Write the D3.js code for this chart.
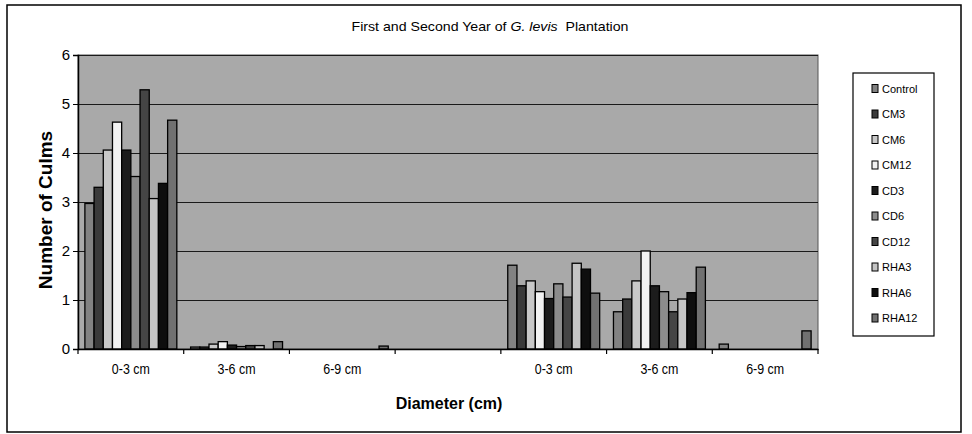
<!DOCTYPE html>
<html>
<head>
<meta charset="utf-8">
<script src="https://cdn.jsdelivr.net/npm/d3@7"></script>
<style>
  html, body { margin: 0; padding: 0; background: #fff; }
  svg { display: block; font-family: "Liberation Sans", Arial, sans-serif; }
</style>
</head>
<body>
<svg id="chart" width="972" height="434"></svg>
<script>
// ---- data ----
const categories = ["0-3 cm", "3-6 cm", "6-9 cm", "", "0-3 cm", "3-6 cm", "6-9 cm"];
const seriesNames = ["Control", "CM3", "CM6", "CM12", "CD3", "CD6", "CD12", "RHA3", "RHA6", "RHA12"];
const Control = [2.97, 0.04, 0, 0, 1.71, 0.76, 0.10];
const CM3     = [3.30, 0.04, 0, 0, 1.29, 1.02, 0];
const CM6     = [4.06, 0.10, 0, 0, 1.39, 1.39, 0];
const CM12    = [4.63, 0.15, 0, 0, 1.17, 2.00, 0];
const CD3     = [4.06, 0.08, 0, 0, 1.03, 1.29, 0];
const CD6     = [3.52, 0.05, 0, 0, 1.33, 1.17, 0];
const CD12    = [5.29, 0.07, 0, 0, 1.06, 0.76, 0];
const RHA3    = [3.07, 0.07, 0, 0, 1.75, 1.02, 0];
const RHA6    = [3.38, 0,    0, 0, 1.63, 1.15, 0];
const RHA12   = [4.67, 0.15, 0.06, 0, 1.14, 1.67, 0.37];
const yTicks = [0, 1, 2, 3, 4, 5, 6];
const titleParts = ["First and Second Year of ", "G. levis", "  Plantation"];
const yTitle = "Number of Culms";
const xTitle = "Diameter (cm)";

const seriesValues = [Control, CM3, CM6, CM12, CD3, CD6, CD12, RHA3, RHA6, RHA12];
const seriesColors = ["#828282", "#3a3a3a", "#c8c8c8", "#f2f2f2", "#1c1c1c",
                      "#8c8c8c", "#454545", "#c4c4c4", "#0e0e0e", "#717171"];

// ---- layout ----
const svg = d3.select("#chart");
const plot = { left: 78, right: 818, top: 55, bottom: 349 };

svg.append("rect").attr("x", 7).attr("y", 5).attr("width", 954).attr("height", 427)
  .attr("fill", "#fff").attr("stroke", "#000").attr("stroke-width", 1.5);

const x = d3.scaleBand().domain(d3.range(categories.length)).range([plot.left, plot.right]).padding(0);
const xs = d3.scaleBand().domain(seriesNames).range([0, x.bandwidth()]).paddingInner(0).paddingOuter(0.75);
const y = d3.scaleLinear().domain([0, 6]).range([plot.bottom, plot.top]);

// plot area
svg.append("rect").attr("x", plot.left).attr("y", plot.top)
  .attr("width", plot.right - plot.left).attr("height", plot.bottom - plot.top)
  .attr("fill", "#a9a9a9").attr("stroke", "#555").attr("stroke-width", 1);

// gridlines
svg.append("g").selectAll("line").data(yTicks.filter(d => d > 0)).join("line")
  .attr("x1", plot.left).attr("x2", plot.right)
  .attr("y1", d => Math.round(y(d)) + 0.5).attr("y2", d => Math.round(y(d)) + 0.5)
  .attr("stroke", "#1a1a1a").attr("stroke-width", 1);

// bars
const barData = [];
seriesNames.forEach((s, si) => {
  seriesValues[si].forEach((v, ci) => {
    if (v > 0) barData.push({ s, si, ci, v });
  });
});
svg.append("g").selectAll("rect").data(barData).join("rect")
  .attr("x", d => x(d.ci) + xs(d.s))
  .attr("y", d => y(d.v))
  .attr("width", xs.bandwidth())
  .attr("height", d => y(0) - y(d.v))
  .attr("fill", d => seriesColors[d.si])
  .attr("stroke", "#000").attr("stroke-width", 1.3);

// y axis
const yAxis = d3.axisLeft(y).tickValues(yTicks).tickSize(5).tickPadding(3).tickFormat(d3.format("d"));
const gy = svg.append("g").attr("transform", `translate(${plot.left},0)`).call(yAxis);
gy.select(".domain").attr("stroke", "#000").attr("stroke-width", 1.5);
gy.selectAll(".tick line").attr("stroke", "#000");
gy.selectAll(".tick text").attr("font-size", 15).attr("fill", "#000")
  .attr("font-family", "Liberation Sans, Arial, sans-serif");

// x axis
const xAxis = d3.axisBottom(x).tickSize(0).tickFormat(i => categories[i]);
const gx = svg.append("g").attr("transform", `translate(0,${plot.bottom})`).call(xAxis);
gx.select(".domain").attr("stroke", "#000").attr("stroke-width", 1.5);
gx.selectAll(".tick text").attr("font-size", 14).attr("fill", "#000").attr("dy", 0)
  .attr("y", 25).attr("font-family", "Liberation Sans, Arial, sans-serif")
  .attr("textLength", function(i) { return categories[i] ? 38 : null; })
  .attr("lengthAdjust", "spacingAndGlyphs");
// category boundary ticks
svg.append("g").selectAll("line").data(d3.range(categories.length + 1)).join("line")
  .attr("x1", i => plot.left + i * x.step()).attr("x2", i => plot.left + i * x.step())
  .attr("y1", plot.bottom).attr("y2", plot.bottom + 5)
  .attr("stroke", "#000").attr("stroke-width", 1.2);

// title
const t = svg.append("text").attr("x", 490).attr("y", 31).attr("text-anchor", "middle")
  .attr("font-size", 13).attr("fill", "#000")
  .attr("textLength", 277).attr("lengthAdjust", "spacingAndGlyphs")
  .style("white-space", "pre");
t.append("tspan").text(titleParts[0]);
t.append("tspan").attr("font-style", "italic").text(titleParts[1]);
t.append("tspan").text(titleParts[2]);

// axis titles
svg.append("text").attr("transform", "translate(52,210) rotate(-90)")
  .attr("text-anchor", "middle").attr("font-size", 19).attr("font-weight", "bold")
  .attr("fill", "#000").text(yTitle);
svg.append("text").attr("x", 449).attr("y", 409)
  .attr("text-anchor", "middle").attr("font-size", 16).attr("font-weight", "bold")
  .attr("fill", "#000").text(xTitle);

// legend
const lg = svg.append("g");
lg.append("rect").attr("x", 853).attr("y", 73).attr("width", 81).attr("height", 263)
  .attr("fill", "#fff").attr("stroke", "#000").attr("stroke-width", 1.2);
const items = lg.selectAll("g.item").data(seriesNames).join("g")
  .attr("transform", (d, i) => `translate(0,${88.5 + i * 25.5})`);
items.append("rect").attr("x", 872).attr("y", -4).attr("width", 6).attr("height", 8)
  .attr("fill", (d, i) => seriesColors[i]).attr("stroke", "#000").attr("stroke-width", 1);
items.append("text").attr("x", 882).attr("y", 4).attr("font-size", 11)
  .attr("fill", "#000").text(d => d);
</script>
</body>
</html>
